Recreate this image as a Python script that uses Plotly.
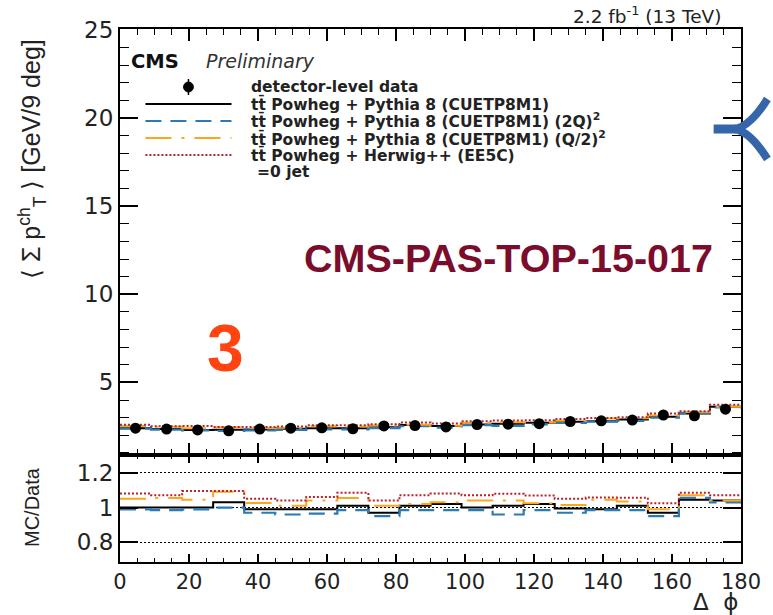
import numpy as np
import plotly.graph_objects as go

# ---- binning in delta-phi (degrees), 9-degree bins ----
bin_edges = [0, 9, 18, 27, 36, 45, 54, 63, 72, 81, 90, 99, 108, 117, 126, 135, 144, 153, 162, 171, 180]
bin_centers = [4.5, 13.5, 22.5, 31.5, 40.5, 49.5, 58.5, 67.5, 76.5, 85.5,
               94.5, 103.5, 112.5, 121.5, 130.5, 139.5, 148.5, 157.5, 166.5, 175.5]

# ---- <sum pT^ch> per bin [GeV / 9 deg] ----
data_mean = [2.40, 2.35, 2.30, 2.25, 2.35, 2.40, 2.42, 2.37, 2.53, 2.55,
             2.47, 2.61, 2.63, 2.66, 2.78, 2.82, 2.86, 3.15, 3.10, 3.48]
data_err = [0.03, 0.03, 0.03, 0.03, 0.03, 0.03, 0.03, 0.03, 0.03, 0.03,
            0.03, 0.03, 0.03, 0.03, 0.03, 0.03, 0.04, 0.04, 0.04, 0.04]

pythia_nominal = [2.400, 2.350, 2.300, 2.318, 2.327, 2.376, 2.396, 2.394, 2.454, 2.576,
                  2.519, 2.610, 2.656, 2.713, 2.766, 2.792, 2.889, 3.056, 3.240, 3.619]
pythia_2q = [2.376, 2.315, 2.277, 2.250, 2.280, 2.304, 2.335, 2.334, 2.404, 2.512,
             2.433, 2.571, 2.525, 2.620, 2.697, 2.778, 2.817, 2.993, 3.271, 3.584]
pythia_q2 = [2.520, 2.479, 2.404, 2.453, 2.413, 2.424, 2.517, 2.500, 2.555, 2.601,
             2.544, 2.714, 2.735, 2.727, 2.822, 2.947, 2.960, 3.119, 3.317, 3.619]
herwig = [2.592, 2.515, 2.519, 2.464, 2.468, 2.496, 2.565, 2.571, 2.631, 2.729,
          2.668, 2.793, 2.840, 2.846, 2.919, 2.981, 3.023, 3.229, 3.364, 3.724]

legend_labels = [
    "detector-level data",
    "tt\u0304 Powheg + Pythia 8 (CUETP8M1)",
    "tt\u0304 Powheg + Pythia 8 (CUETP8M1) (2Q)<sup>2</sup>",
    "tt\u0304 Powheg + Pythia 8 (CUETP8M1) (Q/2)<sup>2</sup>",
    "tt\u0304 Powheg + Herwig++ (EE5C)",
    "=0 jet",
]

main_yticks = [5, 10, 15, 20, 25]
ratio_yticks = [0.8, 1.0, 1.2]
ratio_yticktext = ["0.8", "1", "1.2"]
xticks = [0, 20, 40, 60, 80, 100, 120, 140, 160, 180]

# ---- styles ----
models = [
    (pythia_nominal, "#000000", "solid", 2.0),
    (pythia_2q, "#2a7ab5", "16px,9px", 2.2),
    (pythia_q2, "#ffa51c", "26px,10px,3px,10px", 2.0),
    (herwig, "#b8222a", "2px,2px", 2.0),
]

W, H = 773, 615
ML, MR, MT, MB = 120, 18, 29, 53
PW, PH = W - ML - MR, H - MT - MB


def px(X):
    return (X - ML) / PW


def py(Y):
    return (H - MB - Y) / PH


split = py(455)

fig = go.Figure()

data_arr = np.array(data_mean)
for vals, color, dash, lw in models:
    yv = list(vals) + [vals[-1]]
    fig.add_trace(go.Scatter(x=bin_edges, y=yv, mode="lines", line_shape="hv",
                             line=dict(color=color, dash=dash, width=lw),
                             xaxis="x", yaxis="y", showlegend=False, hoverinfo="skip"))
    ratio = list(np.array(vals) / data_arr)
    fig.add_trace(go.Scatter(x=bin_edges, y=ratio + [ratio[-1]], mode="lines", line_shape="hv",
                             line=dict(color=color, dash=dash, width=lw),
                             xaxis="x2", yaxis="y2", showlegend=False, hoverinfo="skip"))

fig.add_trace(go.Scatter(x=bin_centers, y=data_mean, mode="markers",
                         marker=dict(color="black", size=11, symbol="circle"),
                         error_y=dict(type="data", array=data_err, color="black", thickness=1.5, width=0),
                         xaxis="x", yaxis="y", showlegend=False))

xtickfont = dict(family="DejaVu Sans", size=21, color="#222222")
ytickfont = dict(family="DejaVu Sans", size=23, color="#222222")
axis_common = dict(showline=True, linecolor="black", linewidth=2, mirror="allticks",
                   ticks="inside", tickcolor="black", showgrid=False, zeroline=False)

fig.update_layout(
    width=W, height=H,
    margin=dict(l=ML, r=MR, t=MT, b=MB),
    paper_bgcolor="white", plot_bgcolor="white",
    xaxis=dict(domain=[0, 1], range=[0, 180], anchor="y", tickvals=xticks, showticklabels=False,
               ticklen=12, tickwidth=1.5,
               minor=dict(dtick=5, tick0=0, ticklen=6, ticks="inside", tickcolor="black", tickwidth=1.2),
               **axis_common),
    yaxis=dict(domain=[split, 1], range=[0.88, 25.05], anchor="x", tickvals=main_yticks,
               ticklen=18, tickwidth=1.5, tickfont=ytickfont,
               minor=dict(dtick=1, tick0=0, ticklen=9, ticks="inside", tickcolor="black", tickwidth=1.2),
               **axis_common),
    xaxis2=dict(domain=[0, 1], range=[0, 180], anchor="y2", tickvals=xticks, tickfont=xtickfont,
                ticklen=8, tickwidth=1.5, ticklabeloverflow="allow",
                minor=dict(dtick=5, tick0=0, ticklen=4, ticks="inside", tickcolor="black", tickwidth=1.2),
                **axis_common),
    yaxis2=dict(domain=[0, split], range=[0.687, 1.302], anchor="x2", tickvals=ratio_yticks,
                ticktext=ratio_yticktext, tickfont=ytickfont, ticklen=18, tickwidth=1.5,
                showline=True, linecolor="black", linewidth=2, mirror="allticks",
                ticks="inside", tickcolor="black", zeroline=False,
                showgrid=True, gridcolor="black", gridwidth=1, griddash="2px,2px"),
)

annotations = []
shapes = []

# axis titles
annotations.append(dict(text="\u27e8 \u03a3 p<sup>ch</sup><sub>T</sub> \u27e9 [GeV/9 deg]",
                        x=px(30), y=py(159), xref="paper", yref="paper", textangle=-90,
                        xanchor="center", yanchor="middle",
                        showarrow=False, font=dict(family="Liberation Sans", size=25, color="#222222")))
annotations.append(dict(text="MC/Data", x=px(30), y=py(507), xref="paper", yref="paper", textangle=-90,
                        xanchor="center", yanchor="middle",
                        showarrow=False, font=dict(family="Liberation Sans", size=20, color="#222222")))
annotations.append(dict(text="\u0394  \u03d5", x=px(755), y=py(602), xref="paper", yref="paper",
                        xanchor="right", yanchor="middle", showarrow=False,
                        font=dict(family="DejaVu Sans", size=23, color="#222222")))

# header texts
annotations.append(dict(text="2.2 fb<sup>-1</sup> (13 TeV)", x=px(737), y=py(15), xref="paper", yref="paper",
                        xanchor="right", yanchor="middle", showarrow=False,
                        font=dict(family="DejaVu Sans", size=18.5, color="#222222")))
annotations.append(dict(text="<b>CMS</b>", x=px(129), y=py(61), xref="paper", yref="paper",
                        xanchor="left", yanchor="middle", showarrow=False,
                        font=dict(family="DejaVu Sans", size=19.5, color="#111111")))
annotations.append(dict(text="<i>Preliminary</i>", x=px(206), y=py(61), xref="paper", yref="paper",
                        xanchor="left", yanchor="middle", showarrow=False,
                        font=dict(family="DejaVu Sans", size=19, color="#333333")))

# legend
row_y = [87, 104, 121, 138, 155, 172]
for i, label in enumerate(legend_labels):
    annotations.append(dict(text="<b>" + label + "</b>", x=px(258 if i == 5 else 252), y=py(row_y[i]),
                            xref="paper", yref="paper", xanchor="left", yanchor="middle",
                            showarrow=False, font=dict(family="DejaVu Sans", size=15.5, color="#222222")))

# data marker sample
shapes.append(dict(type="circle", xref="paper", yref="paper", x0=px(185), x1=px(195),
                   y0=py(92), y1=py(82), fillcolor="black", line=dict(color="black", width=1)))
shapes.append(dict(type="line", xref="paper", yref="paper", x0=px(190), x1=px(190),
                   y0=py(95), y1=py(79), line=dict(color="black", width=1.5)))
for k, (vals, color, dash, lw) in enumerate(models):
    Y = row_y[k + 1]
    shapes.append(dict(type="line", xref="paper", yref="paper", x0=px(146), x1=px(234),
                       y0=py(Y), y1=py(Y), line=dict(color=color, dash=dash, width=lw)))

# overlay labels
annotations.append(dict(text="<b>CMS-PAS-TOP-15-017</b>", x=px(517), y=py(258), xref="paper", yref="paper",
                        xanchor="center", yanchor="middle", showarrow=False,
                        font=dict(family="Liberation Sans", size=39.5, color="#7b0c2b")))
annotations.append(dict(text="<b>3</b>", x=px(228), y=py(348), xref="paper", yref="paper",
                        xanchor="center", yanchor="middle", showarrow=False,
                        font=dict(family="Liberation Sans", size=66, color="#ff4411")))


def path(points):
    (x0, y0), (cx, cy), (x1, y1) = points
    return f"M {px(x0)} {py(y0)} Q {px(cx)} {py(cy)} {px(x1)} {py(y1)}"


arrow_color = "#3566aa"
shapes.append(dict(type="line", xref="paper", yref="paper", x0=px(727), x1=px(750),
                   y0=py(129), y1=py(129), line=dict(color=arrow_color, width=9)))
shapes.append(dict(type="path", xref="paper", yref="paper",
                   path=path([(748, 129), (764, 127), (782, 99)]), line=dict(color=arrow_color, width=8)))
shapes.append(dict(type="path", xref="paper", yref="paper",
                   path=path([(748, 129), (764, 131), (782, 159)]), line=dict(color=arrow_color, width=8)))

fig.update_layout(annotations=annotations, shapes=shapes)

fig.write_html("out.html")
